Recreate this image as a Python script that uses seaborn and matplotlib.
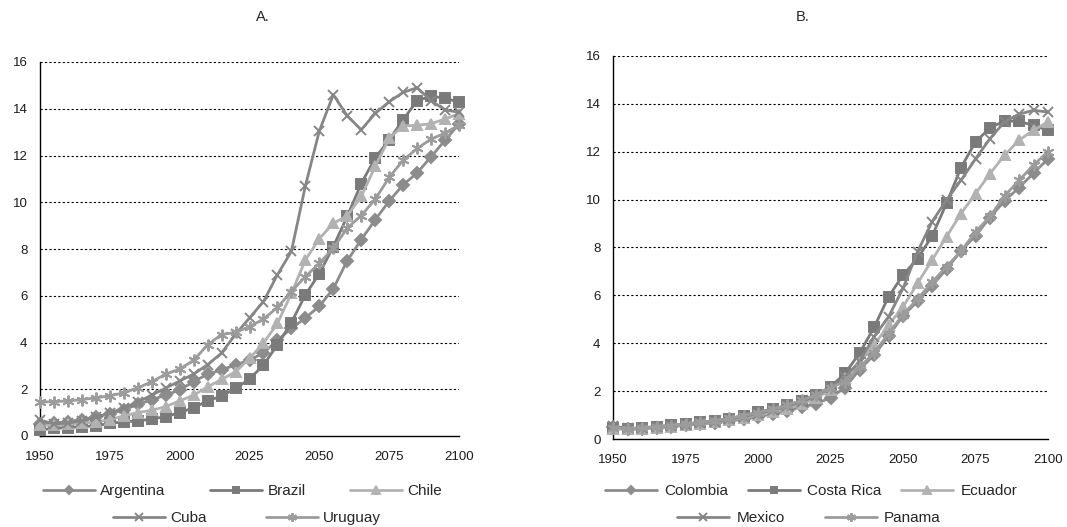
import numpy as np
import matplotlib
matplotlib.use("Agg")
import matplotlib.pyplot as plt
import seaborn as sns

sns.set_style("white")
plt.rcParams['font.family'] = ['Liberation Sans', 'DejaVu Sans']

# years on the x axis (every 5 years)
years = list(range(1950, 2101, 5))

# panel A
argentina = [0.50, 0.55, 0.62, 0.70, 0.82, 0.95, 1.12, 1.35, 1.55, 1.75, 1.97, 2.33, 2.64, 2.83, 3.04, 3.25,
             3.55, 4.10, 4.60, 5.05, 5.55, 6.30, 7.50, 8.40, 9.25, 10.05, 10.75, 11.25, 11.95, 12.65, 13.35]
brazil = [0.26, 0.33, 0.36, 0.40, 0.44, 0.54, 0.61, 0.64, 0.73, 0.83, 1.00, 1.21, 1.50, 1.71, 2.04, 2.43,
          3.04, 3.90, 4.85, 6.04, 6.95, 8.10, 9.40, 10.80, 11.90, 12.67, 13.53, 14.35, 14.53, 14.46, 14.27]
chile = [0.47, 0.45, 0.50, 0.55, 0.60, 0.70, 0.86, 1.00, 1.10, 1.26, 1.50, 1.75, 2.10, 2.42, 2.75, 3.32,
         3.97, 4.82, 6.10, 7.53, 8.44, 9.10, 9.42, 10.25, 11.53, 12.74, 13.27, 13.29, 13.36, 13.56, 13.79]
cuba = [0.68, 0.52, 0.55, 0.65, 0.80, 0.98, 1.20, 1.45, 1.75, 2.05, 2.35, 2.65, 3.05, 3.55, 4.35, 5.05,
        5.75, 6.90, 7.90, 10.70, 13.05, 14.60, 13.70, 13.10, 13.80, 14.30, 14.70, 14.90, 14.35, 13.95, 13.85]
uruguay = [1.45, 1.47, 1.50, 1.56, 1.63, 1.72, 1.85, 2.06, 2.32, 2.65, 2.86, 3.24, 3.90, 4.34, 4.43, 4.68,
           5.00, 5.50, 6.18, 6.82, 7.39, 8.03, 8.90, 9.43, 10.13, 11.06, 11.80, 12.30, 12.70, 12.96, 13.30]

# panel B
colombia = [0.50, 0.40, 0.42, 0.47, 0.52, 0.57, 0.63, 0.68, 0.75, 0.83, 0.93, 1.05, 1.18, 1.32, 1.48, 1.72,
            2.15, 2.90, 3.50, 4.30, 5.15, 5.75, 6.40, 7.10, 7.85, 8.50, 9.25, 9.95, 10.50, 11.10, 11.70]
costa_rica = [0.45, 0.42, 0.47, 0.52, 0.57, 0.63, 0.70, 0.76, 0.85, 0.97, 1.12, 1.25, 1.40, 1.60, 1.85, 2.18,
              2.74, 3.58, 4.66, 5.94, 6.85, 7.54, 8.47, 9.84, 11.34, 12.41, 13.00, 13.29, 13.27, 13.10, 12.90]
ecuador = [0.42, 0.40, 0.43, 0.48, 0.52, 0.58, 0.64, 0.70, 0.78, 0.88, 1.00, 1.12, 1.27, 1.45, 1.70, 2.05,
           2.55, 3.20, 3.92, 4.76, 5.52, 6.50, 7.47, 8.45, 9.42, 10.25, 11.09, 11.85, 12.48, 12.90, 13.25]
mexico = [0.55, 0.44, 0.46, 0.50, 0.55, 0.60, 0.67, 0.73, 0.82, 0.93, 1.06, 1.20, 1.36, 1.55, 1.80, 2.15,
          2.60, 3.23, 4.27, 5.10, 6.29, 7.82, 9.07, 9.98, 10.81, 11.70, 12.55, 13.25, 13.57, 13.73, 13.66]
panama = [0.48, 0.43, 0.46, 0.50, 0.56, 0.62, 0.70, 0.76, 0.86, 0.98, 1.10, 1.24, 1.40, 1.62, 1.85, 2.15,
          2.40, 3.00, 3.60, 4.40, 5.20, 5.85, 6.55, 7.20, 7.85, 8.65, 9.30, 10.15, 10.80, 11.45, 12.00]

names_a = ["Argentina", "Brazil", "Chile", "Cuba", "Uruguay"]
values_a = [argentina, brazil, chile, cuba, uruguay]
names_b = ["Colombia", "Costa Rica", "Ecuador", "Mexico", "Panama"]
values_b = [colombia, costa_rica, ecuador, mexico, panama]

# styles shared by the two panels (same order of series)
colors = ['#8c8c8c', '#7a7a7a', '#b2b2b2', '#868686', '#9c9c9c']
markers = ['D', 's', '^', 'x', (6, 2, 0)]
msizes = [6, 6.5, 7, 7.5, 8.5]

fig = plt.figure(figsize=(10.67, 5.27), dpi=100)
ax_a = fig.add_axes([40 / 1067, 91 / 527, 419 / 1067, 374 / 527])
ax_b = fig.add_axes([613 / 1067, 88 / 527, 435 / 1067, 383 / 527])


def draw_panel(ax, names, values):
    lines = []
    for i, (name, vals) in enumerate(zip(names, values)):
        sns.lineplot(x=years, y=vals, ax=ax, color=colors[i], marker=markers[i],
                     markersize=msizes[i], markeredgecolor=colors[i], markeredgewidth=1.4,
                     linewidth=2.0, legend=False, clip_on=False, zorder=3 + i)
        lines.append(ax.lines[-1])
    ax.set_xlim(1950, 2100)
    ax.set_ylim(0, 16)
    ax.set_xticks(range(1950, 2101, 25))
    ax.set_yticks(range(0, 17, 2))
    for y in range(2, 17, 2):
        ax.hlines(y, 1950, 2100, colors='black', linestyles=(0, (2, 2)), linewidth=0.8, zorder=1)
    for s in ['top', 'right']:
        ax.spines[s].set_visible(False)
    for s in ['left', 'bottom']:
        ax.spines[s].set_color('black')
        ax.spines[s].set_linewidth(1.0)
    ax.tick_params(axis='both', direction='out', length=4, width=1, color='black',
                   labelsize=9.5, labelcolor='#1a1a1a')
    ax.tick_params(axis='x', pad=7)
    ax.tick_params(axis='y', pad=5)
    ax.set_xlabel('')
    ax.set_ylabel('')
    return lines


lines_a = draw_panel(ax_a, names_a, values_a)
lines_b = draw_panel(ax_b, names_b, values_b)

fig.text(263 / 1067, 1 - 17 / 527, "A.", ha='center', va='center', fontsize=10.5)
fig.text(803 / 1067, 1 - 17 / 527, "B.", ha='center', va='center', fontsize=10.5)


def add_legend(handles, labels, x, y, spacing, pad):
    leg = fig.legend(handles, labels, loc='center left', bbox_to_anchor=(x / 1067, 1 - y / 527),
                     ncol=len(handles), frameon=False, fontsize=11, handlelength=3.4,
                     handletextpad=pad, columnspacing=spacing, borderpad=0, borderaxespad=0)
    for h in leg.legend_handles:
        h.set_markersize(h.get_markersize() * 0.75)
    return leg


add_legend(lines_a[:3], names_a[:3], 43, 491, 2.9, 0.35)
add_legend(lines_a[3:], names_a[3:], 113, 518, 3.85, 0.35)
add_legend(lines_b[:3], names_b[:3], 605, 491, 1.25, 0.5)
add_legend(lines_b[3:], names_b[3:], 677, 518, 2.6, 0.5)

fig.savefig("out.png", dpi=100)
